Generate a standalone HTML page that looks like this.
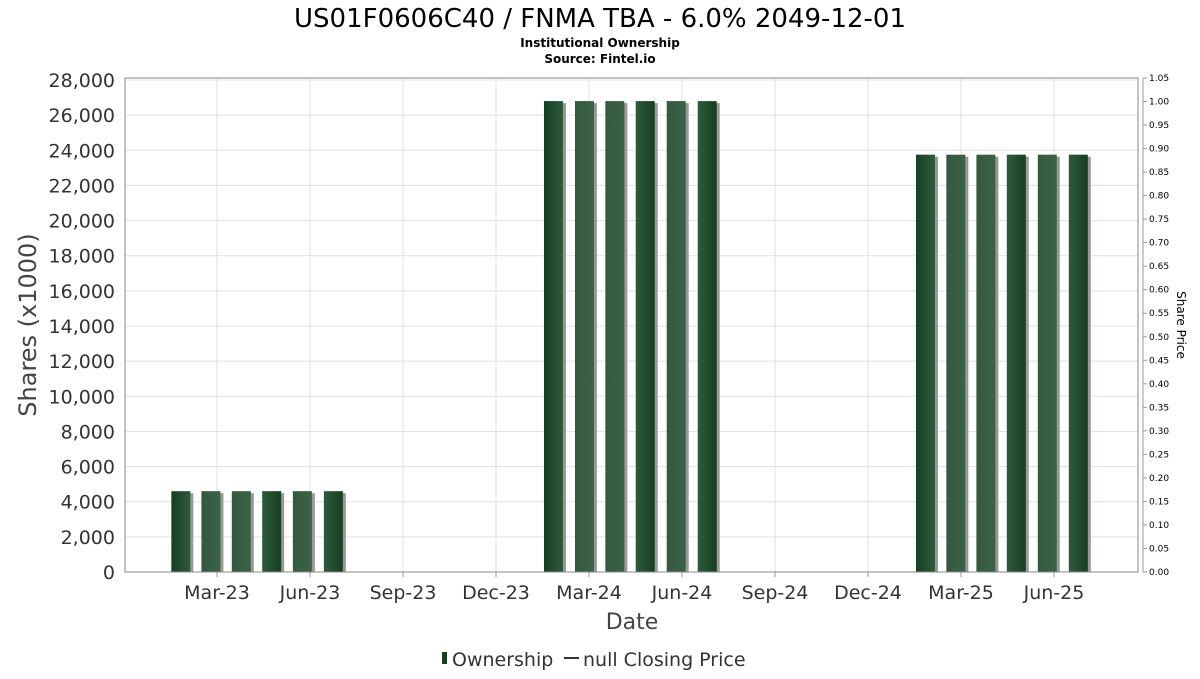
<!DOCTYPE html>
<html><head><meta charset="utf-8"><style>
body{margin:0;background:#fff;font-family:"DejaVu Sans","Liberation Sans",sans-serif;}
</style></head><body>
<svg id="c" width="1200" height="675" xmlns="http://www.w3.org/2000/svg">
<defs>
<linearGradient id="g1" x1="0" x2="1"><stop offset="0" stop-color="#163f22"/><stop offset="1" stop-color="#2f5a3c"/></linearGradient>
<linearGradient id="g2" x1="0" x2="1"><stop offset="0" stop-color="#2f5a3c"/><stop offset="1" stop-color="#163f22"/></linearGradient>
<linearGradient id="g3" x1="0" x2="1"><stop offset="0" stop-color="#34583e"/><stop offset="1" stop-color="#3b6346"/></linearGradient>
</defs>
<text x="600" y="27" text-anchor="middle" font-size="26" fill="#000">US01F0606C40 / FNMA TBA - 6.0% 2049-12-01</text>
<text x="600" y="47" text-anchor="middle" font-size="12" font-weight="bold">Institutional Ownership</text>
<text x="600" y="63" text-anchor="middle" font-size="12" font-weight="bold">Source: Fintel.io</text>
<g id="grid"></g><g id="bars"></g><g id="axes"></g>
<text transform="translate(36,325) rotate(-90)" text-anchor="middle" font-size="24" fill="#444">Shares (x1000)</text>
<text transform="translate(1177,325) rotate(90)" text-anchor="middle" font-size="12" fill="#000">Share Price</text>
<text x="632" y="629" text-anchor="middle" font-size="22" fill="#444">Date</text>
<g>
<rect x="442" y="652" width="5" height="12" fill="#163f22"/>
<text x="452" y="666" font-size="19" fill="#333">Ownership</text>
<line x1="564" y1="658" x2="579" y2="658" stroke="#333" stroke-width="2"/>
<text x="583" y="666" font-size="19" fill="#333">null Closing Price</text>
</g>
</svg>
<script>
const xTickLabels=["Mar-23","Jun-23","Sep-23","Dec-23","Mar-24","Jun-24","Sep-24","Dec-24","Mar-25","Jun-25"];
const xTickMonths=[2,5,8,11,14,17,20,23,26,29];
const barMonths=[0.85,1.82,2.8,3.78,4.77,5.77,12.87,13.87,14.85,15.83,16.83,17.83,24.87,25.85,26.82,27.8,28.8,29.8];
const barValues=[4600,4600,4600,4600,4600,4600,26800,26800,26800,26800,26800,26800,23750,23750,23750,23750,23750,23750];
const yTicks=[0,2000,4000,6000,8000,10000,12000,14000,16000,18000,20000,22000,24000,26000,28000];
const rTicks=[0,0.05,0.1,0.15,0.2,0.25,0.3,0.35,0.4,0.45,0.5,0.55,0.6,0.65,0.7,0.75,0.8,0.85,0.9,0.95,1.0,1.05];
const NS="http://www.w3.org/2000/svg";
const L=125,R=1138,T=78,B=572;
const x=m=>217+(m-2)*31;
const y=v=>B-v/28000*(B-80);
const yr=v=>B-v/1.05*(B-T);
function mk(p,t,a){const e=document.createElementNS(NS,t);for(const k in a)e.setAttribute(k,a[k]);document.getElementById(p).appendChild(e);return e;}
yTicks.forEach(v=>{
 const g=mk('grid','line',{x1:L,x2:R,y1:y(v),y2:y(v),stroke:'#e0e0e0'});
 
 
 const t=mk('axes','text',{x:L-10,y:y(v)+7,'text-anchor':'end','font-size':19,fill:'#333'});
 t.textContent=v.toLocaleString('en-US');
 
 
});
xTickMonths.forEach((m,i)=>{
 const g=mk('grid','line',{x1:x(m),x2:x(m),y1:T,y2:B,stroke:'#e0e0e0'});
 
 
 const k=mk('axes','line',{x1:x(m),x2:x(m),y1:B,y2:B+5,stroke:'#999'});
 
 
 const t=mk('axes','text',{x:x(m),y:B+27,'text-anchor':'middle','font-size':19,fill:'#333'});
 t.textContent=xTickLabels[i];
 
 
});
const fills=['url(#g1)','url(#g3)','url(#g3)','url(#g2)','url(#g3)','url(#g2)'];
barMonths.forEach((m,i)=>{
 const cx=x(m),top=y(barValues[i]);
 const s=mk('bars','rect',{x:cx-7,y:top+2,width:19,height:B-top-2,fill:'#999'});
 
 
 const b=mk('bars','rect',{x:cx-10,y:top,width:19,height:B-top,fill:fills[i%6]});
 
 
});
const f=mk('axes','rect',{x:L,y:T,width:R-L,height:B-T,fill:'none',stroke:'#888'});


const ra=mk('axes','line',{x1:1143,x2:1143,y1:T,y2:B,stroke:'#999'});


rTicks.forEach(v=>{
 const k=mk('axes','line',{x1:1143,x2:1147,y1:yr(v),y2:yr(v),stroke:'#999'});
 
 
 const t=mk('axes','text',{x:1149,y:yr(v)+3,'font-size':9,fill:'#000'});
 t.textContent=v.toFixed(2);
 
 
});
</script>
</body></html>
